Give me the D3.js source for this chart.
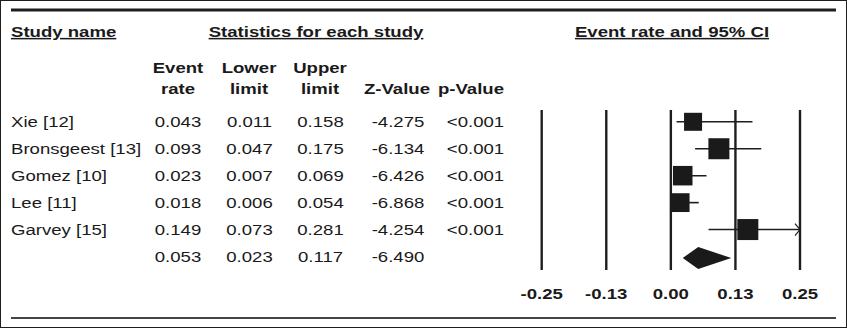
<!DOCTYPE html>
<html><head><meta charset="utf-8">
<script src="https://cdn.jsdelivr.net/npm/d3@7"></script>
<style>
html,body{margin:0;padding:0;background:#fff;}
text{font-family:"Liberation Sans",Arial,sans-serif;fill:#1a1a1a;}
</style></head>
<body><svg id="c" width="847" height="328"></svg>
<script>
const studies = ["Xie [12]","Bronsgeest [13]","Gomez [10]","Lee [11]","Garvey [15]",""];
const eventRate = [0.043,0.093,0.023,0.018,0.149,0.053];
const lowerLimit = [0.011,0.047,0.007,0.006,0.073,0.023];
const upperLimit = [0.158,0.175,0.069,0.054,0.281,0.117];
const zValue = ["-4.275","-6.134","-6.426","-6.868","-4.254","-6.490"];
const pValue = ["<0.001","<0.001","<0.001","<0.001","<0.001",""];
const weights = [16.7,22.7,19.6,18.2,22.7];
const tickValues = [-0.25,-0.125,0,0.125,0.25];
const tickLabels = ["-0.25","-0.13","0.00","0.13","0.25"];
const headLine1 = ["Event","Lower","Upper","",""];
const headLine2 = ["rate","limit","limit","Z-Value","p-Value"];

const svg = d3.select("#c");
const ink = "#1e1e1e";
svg.append("rect").attr("x",0.5).attr("y",0.5).attr("width",846).attr("height",327)
  .attr("fill","none").attr("stroke",ink).attr("stroke-width",1);
svg.append("line").attr("x1",11).attr("x2",836).attr("y1",10).attr("y2",10).attr("stroke",ink).attr("stroke-width",3);
svg.append("line").attr("x1",11).attr("x2",836).attr("y1",318).attr("y2",318).attr("stroke","#444").attr("stroke-width",2);

const x = d3.scaleLinear().domain([-0.25,0.25]).range([541.7,800]);
const y = d3.scaleLinear().domain([0,5]).range([121.8,256.5]);
const fs = 15, sx = 1.24;

function txt(str,xx,yy,anchor,bold,under){
  const t = svg.append("g").attr("transform",`translate(${xx},${yy}) scale(${sx},1)`)
    .append("text").attr("x",0).attr("y",0).attr("text-anchor",anchor)
    .attr("font-size",fs).attr("font-weight",bold?"bold":"normal").text(str);
  if(under) t.style("text-decoration","underline");
  return t;
}
txt("Study name",11,37,"start",true,true);
txt("Statistics for each study",316,37,"middle",true,true);
txt("Event rate and 95% CI",672,37,"middle",true,true);

const headX = [178,249,320,397,471];
const colX = [178,249.5,320.5,398,475.5];
headLine1.forEach((t,i)=>txt(t,headX[i],72.5,"middle",true));
headLine2.forEach((t,i)=>txt(t,headX[i],94,"middle",true));

const f3 = d3.format(".3f");
studies.forEach((s,i)=>{
  const by = y(i)+5.4;
  txt(s,11,by,"start",false);
  const vals=[f3(eventRate[i]),f3(lowerLimit[i]),f3(upperLimit[i]),zValue[i],pValue[i]];
  vals.forEach((v,j)=>txt(v,colX[j],by,"middle",false));
});

// vertical reference lines
svg.selectAll("line.v").data(tickValues).enter().append("line").attr("class","v")
  .attr("x1",d=>x(d)).attr("x2",d=>x(d)).attr("y1",110).attr("y2",270)
  .attr("stroke",ink).attr("stroke-width",2.4);
tickValues.forEach((d,i)=>txt(tickLabels[i],x(d),298.5,"middle",true));

const side = d3.scaleSqrt().domain([0,22.7]).range([0,21]);
const dmax = x.domain()[1];
weights.forEach((w,i)=>{
  const cy = y(i);
  const hi = Math.min(upperLimit[i],dmax);
  svg.append("line").attr("x1",x(lowerLimit[i])).attr("x2",x(hi)).attr("y1",cy).attr("y2",cy)
    .attr("stroke",ink).attr("stroke-width",1.6);
  if(upperLimit[i]>dmax){
    svg.append("path").attr("d",`M${x(dmax)-5},${cy-6}L${x(dmax)},${cy}L${x(dmax)-5},${cy+6}`)
      .attr("fill","none").attr("stroke",ink).attr("stroke-width",1.2);
  }
  const s = side(w);
  svg.append("rect").attr("x",x(eventRate[i])-s/2).attr("y",cy-s/2).attr("width",s).attr("height",s).attr("fill","#1a1a1a");
});
const sc = y(5)+1.5, k=5;
svg.append("path").attr("d",`M${x(lowerLimit[k])},${sc}L${x(eventRate[k])},${sc-11}L${x(upperLimit[k])},${sc}L${x(eventRate[k])},${sc+11}Z`)
  .attr("fill","#1a1a1a");
</script></body></html>
